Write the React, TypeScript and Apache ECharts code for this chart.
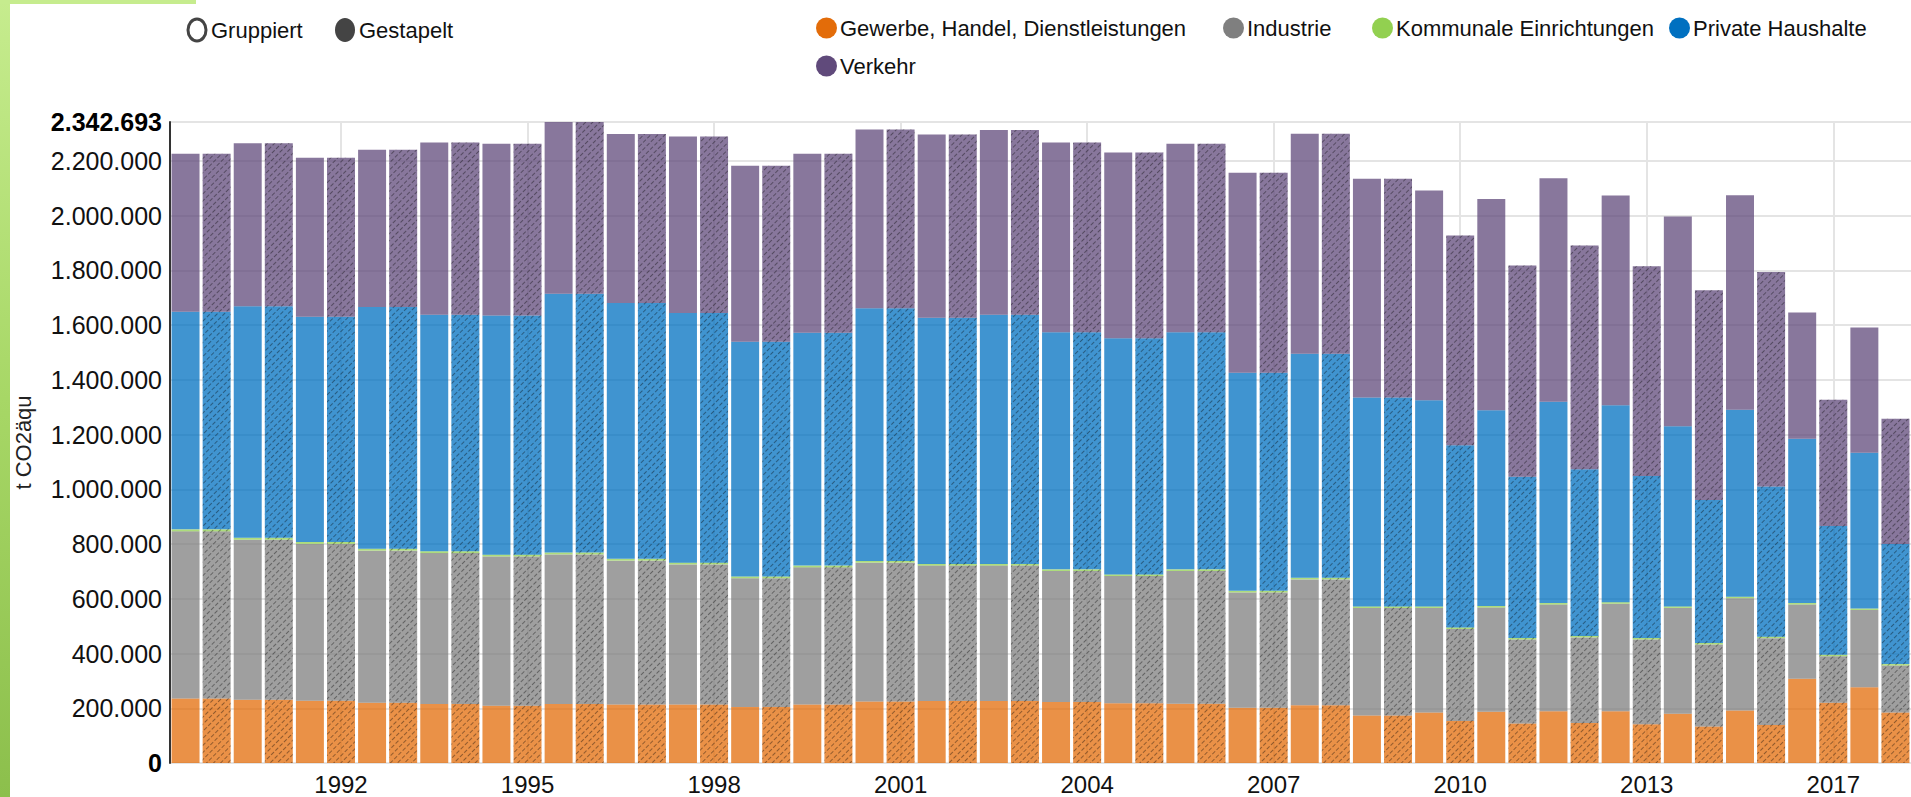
import React, { useEffect, useRef } from 'react';
import * as echarts from 'echarts';

// Years (one pair of bars per year: plain bar, hatched bar)
const years = ['1990', '1991', '1992', '1993', '1994', '1995', '1996', '1997', '1998', '1999', '2000', '2001', '2002', '2003', '2004', '2005', '2006', '2007', '2008', '2009', '2010', '2011', '2012', '2013', '2014', '2015', '2017', '2018'];

// plain bars (t CO2äqu)
const gewerbe = [235400, 230800, 227700, 220000, 215400, 209200, 215400, 213800, 213800, 204600, 213800, 224600, 226200, 226200, 223100, 218500, 216900, 201500, 210800, 173900, 184600, 187700, 189200, 189200, 180000, 192300, 307700, 276900];
const industrie = [611300, 585200, 573100, 556100, 551700, 545600, 547000, 525800, 512000, 470600, 501200, 507600, 495300, 495200, 478500, 464700, 484700, 421800, 460300, 392500, 382000, 380500, 389800, 392900, 386800, 409900, 271500, 282400];
const kommunale = [7200, 7100, 6900, 7000, 6800, 6700, 6800, 6600, 6500, 6400, 6500, 6300, 6200, 6300, 6100, 6000, 6100, 5900, 5800, 5900, 5700, 5700, 5600, 5600, 5500, 5500, 5400, 5300];
const haushalte = [795400, 846200, 823100, 883100, 864600, 873900, 946200, 935400, 912300, 858400, 850800, 923100, 900000, 910800, 866200, 863100, 866200, 797000, 818500, 763100, 753900, 715400, 735400, 720000, 658500, 683100, 600000, 569300];
const verkehr = [576900, 595400, 581600, 575400, 629200, 627600, 627293, 616900, 644700, 643100, 653900, 653800, 669200, 675400, 693800, 678500, 689200, 730700, 804600, 800000, 766100, 772300, 817000, 766200, 766500, 784000, 461500, 457700];

// hatched bars (t CO2äqu)
const gewerbeHatched = [235400, 230800, 227700, 220000, 215400, 209200, 215400, 213800, 213800, 204600, 213800, 224600, 226200, 226200, 223100, 218500, 216900, 201500, 210800, 173900, 153800, 144600, 146200, 141500, 133800, 138500, 220000, 184600];
const industrieHatched = [611300, 585200, 573100, 556100, 551700, 545600, 547000, 525800, 512000, 470600, 501200, 507600, 495300, 495200, 478500, 464700, 484700, 421800, 460300, 392500, 336000, 306800, 312900, 310000, 299400, 317800, 170200, 171700];
const kommunaleHatched = [7200, 7100, 6900, 7000, 6800, 6700, 6800, 6600, 6500, 6400, 6500, 6300, 6200, 6300, 6100, 6000, 6100, 5900, 5800, 5900, 5600, 5500, 5500, 5400, 5300, 5300, 5200, 5200];
const haushalteHatched = [795400, 846200, 823100, 883100, 864600, 873900, 946200, 935400, 912300, 858400, 850800, 923100, 900000, 910800, 866200, 863100, 866200, 797000, 818500, 763100, 666200, 589300, 609300, 592400, 523100, 549200, 470800, 438500];
const verkehrHatched = [576900, 595400, 581600, 575400, 629200, 627600, 627293, 616900, 644700, 643100, 653900, 653800, 669200, 675400, 693800, 678500, 689200, 730700, 804600, 800000, 766100, 772300, 817000, 766200, 766500, 784000, 461500, 457700];

const seriesNames = ['Gewerbe, Handel, Dienstleistungen', 'Industrie', 'Kommunale Einrichtungen', 'Private Haushalte', 'Verkehr'];
const seriesColors = ['#E36C09', '#7F7F7F', '#92D050', '#0070C0', '#604A7B'];
const plainValues = [gewerbe, industrie, kommunale, haushalte, verkehr];
const hatchedValues = [gewerbeHatched, industrieHatched, kommunaleHatched, haushalteHatched, verkehrHatched];

const yAxisName = 't CO2äqu';
const yMax = 2342693;
const yStep = 200000;
const yearLabelStep = 3;
const modeLabels = ['Gruppiert', 'Gestapelt'];

const FONT = "'Liberation Sans', Arial, sans-serif";

const fmt = (v: number) => String(Math.round(v)).replace(/\B(?=(\d{3})+(?!\d))/g, '.');

const categories = years.flatMap((y) => [y, y]);
const isLabelled = (index: number) => index % (2 * yearLabelStep) === 2 * yearLabelStep - 1;

const decal = {
  symbol: 'rect',
  symbolSize: 1,
  color: 'rgba(0,0,0,0.5)',
  dashArrayX: [[4, 2]],
  dashArrayY: [1, 4],
  rotation: -Math.PI / 4,
};

const legendLeft = [816, 1223, 1372, 1669, 816];
const legendTop = [17, 17, 17, 17, 55];
const ellipseIcon = 'path://M0,50a50,50 0 1,0 100,0a50,50 0 1,0 -100,0z';

export default function App() {
  const ref = useRef<HTMLDivElement>(null);
  useEffect(() => {
    const chart = echarts.init(ref.current as HTMLDivElement, null, { renderer: 'svg' });
    const series = seriesNames.map((name, s) => ({
      name,
      type: 'bar',
      stack: 'total',
      barCategoryGap: '10%',
      itemStyle: { color: seriesColors[s], opacity: 0.75 },
      emphasis: { disabled: true },
      data: years.flatMap((_, i) => [
        plainValues[s][i],
        { value: hatchedValues[s][i], itemStyle: { decal } },
      ]),
    }));
    const option = {
      animation: false,
      textStyle: { fontFamily: FONT },
      grid: { left: 170, right: 0, top: 122, bottom: 34, containLabel: false },
      legend: seriesNames.map((name, s) => ({
        data: [name],
        left: legendLeft[s],
        top: legendTop[s],
        padding: 0,
        icon: ellipseIcon,
        itemWidth: 21,
        itemHeight: 26,
        itemStyle: { opacity: 1 },
        selectedMode: false,
        textStyle: { fontSize: 22, color: '#111', fontFamily: FONT, padding: [0, 0, 0, -2] },
      })),
      xAxis: {
        type: 'category',
        data: categories,
        axisLine: { show: false },
        axisTick: { show: false, alignWithLabel: true },
        axisLabel: {
          interval: (index: number) => isLabelled(index),
          fontSize: 24,
          color: '#111',
          margin: 9,
          fontFamily: FONT,
        },
        splitLine: {
          show: true,
          alignWithLabel: true,
          interval: (index: number) => isLabelled(index),
          lineStyle: { color: '#e4e4e4', width: 2 },
        },
      },
      yAxis: {
        type: 'value',
        min: 0,
        max: yMax,
        interval: yStep,
        name: yAxisName,
        nameLocation: 'middle',
        nameGap: 136,
        nameTextStyle: { fontSize: 22, color: '#222', fontFamily: FONT },
        axisLine: { show: true, lineStyle: { color: '#333', width: 2 } },
        axisTick: { show: false },
        splitLine: { show: true, lineStyle: { color: '#e4e4e4', width: 2 } },
        axisLabel: {
          fontSize: 25,
          color: '#111',
          margin: 8,
          fontFamily: FONT,
          formatter: (v: number) => (v === 0 || v === yMax ? `{b|${fmt(v)}}` : fmt(v)),
          rich: { b: { fontSize: 25, fontWeight: 'bold', color: '#000', fontFamily: FONT } },
        },
      },
      graphic: [
        {
          type: 'rect',
          silent: true,
          shape: { x: 0, y: 0, width: 10, height: 797 },
          style: {
            fill: new echarts.graphic.LinearGradient(0, 0, 0, 1, [
              { offset: 0, color: '#c6ec8e' },
              { offset: 0.5, color: '#a7d766' },
              { offset: 1, color: '#8cbf4c' },
            ]),
          },
        },
        { type: 'rect', silent: true, shape: { x: 0, y: 0, width: 196, height: 4 }, style: { fill: '#c6ec8e' } },
        { type: 'ellipse', silent: true, shape: { cx: 197, cy: 30, rx: 9, ry: 11 }, style: { fill: '#fff', stroke: '#444', lineWidth: 3 } },
        { type: 'text', silent: true, x: 211, y: 30, style: { text: modeLabels[0], fontSize: 22, fill: '#111', verticalAlign: 'middle', fontFamily: FONT } },
        { type: 'ellipse', silent: true, shape: { cx: 345, cy: 30, rx: 10, ry: 12 }, style: { fill: '#444' } },
        { type: 'text', silent: true, x: 359, y: 30, style: { text: modeLabels[1], fontSize: 22, fill: '#111', verticalAlign: 'middle', fontFamily: FONT } },
      ],
      series,
    };
    chart.setOption(option as any);
    return () => chart.dispose();
  }, []);
  return (
    <div
      ref={ref}
      style={{ position: 'fixed', left: 0, top: 0, width: 1911, height: 797, background: '#fff' }}
    />
  );
}
